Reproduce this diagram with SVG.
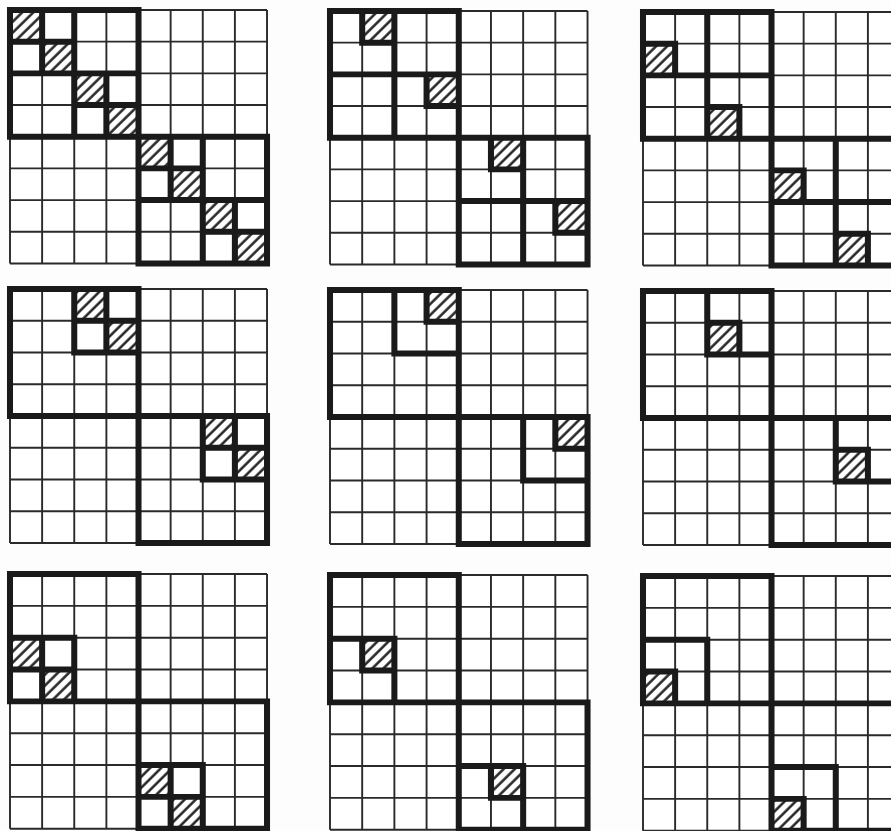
<svg xmlns="http://www.w3.org/2000/svg" xmlns:xlink="http://www.w3.org/1999/xlink" width="891" height="831" viewBox="0 0 891 831">
<style>
.thin{fill:none;stroke:#2a2a2a;stroke-width:1.9}
.thick{fill:none;stroke:#1a1a1a;stroke-width:6;stroke-linecap:square;stroke-linejoin:miter}
.h{fill:url(#hatch)}
</style>
<defs>
<pattern id="hatch" patternUnits="userSpaceOnUse" width="7.8" height="7.8" patternTransform="rotate(45)">
<rect width="7.8" height="7.8" fill="#fff"/>
<line x1="2.5" y1="0" x2="2.5" y2="7.8" stroke="#1a1a1a" stroke-width="2.4"/>
</pattern>
<g id="grid">
<rect width="256" height="256" fill="#fff"/>
<path class="thin" d="M0 0V256M32 0V256M64 0V256M96 0V256M128 0V256M160 0V256M192 0V256M224 0V256M256 0V256M0 0H256M0 32H256M0 64H256M0 96H256M0 128H256M0 160H256M0 192H256M0 224H256M0 256H256"/>
</g>
</defs>
<rect width="891" height="831" fill="#fdfdfd"/>

<g id="grid1" transform="translate(10,10) scale(1.004,0.99)">
<use href="#grid" xlink:href="#grid"/>
<rect class="h" x="2" y="2" width="28" height="28"/>
<rect class="h" x="34" y="34" width="28" height="28"/>
<rect class="h" x="66" y="66" width="28" height="28"/>
<rect class="h" x="98" y="98" width="28" height="28"/>
<rect class="h" x="130" y="130" width="28" height="28"/>
<rect class="h" x="162" y="162" width="28" height="28"/>
<rect class="h" x="194" y="194" width="28" height="28"/>
<rect class="h" x="226" y="226" width="28" height="28"/>
<path class="thick" d="M0 0H128V128H0ZM128 128H256V256H128ZM0 0H64V64H0ZM64 64H128V128H64ZM128 128H192V192H128ZM192 192H256V256H192ZM0 0h32v32h-32ZM32 32h32v32h-32ZM64 64h32v32h-32ZM96 96h32v32h-32ZM128 128h32v32h-32ZM160 160h32v32h-32ZM192 192h32v32h-32ZM224 224h32v32h-32Z"/>
</g>

<g id="grid2" transform="translate(330,11) scale(1.006,0.99)">
<use href="#grid" xlink:href="#grid"/>
<rect class="h" x="34" y="2" width="28" height="28"/>
<rect class="h" x="98" y="66" width="28" height="28"/>
<rect class="h" x="162" y="130" width="28" height="28"/>
<rect class="h" x="226" y="194" width="28" height="28"/>
<path class="thick" d="M0 0H128V128H0ZM128 128H256V256H128ZM0 0H64V64H0ZM64 64H128V128H64ZM128 128H192V192H128ZM192 192H256V256H192ZM32 0h32v32h-32ZM96 64h32v32h-32ZM160 128h32v32h-32ZM224 192h32v32h-32Z"/>
</g>

<g id="grid3" transform="translate(643,12) scale(1.004,0.99)">
<use href="#grid" xlink:href="#grid"/>
<rect class="h" x="2" y="34" width="28" height="28"/>
<rect class="h" x="66" y="98" width="28" height="28"/>
<rect class="h" x="130" y="162" width="28" height="28"/>
<rect class="h" x="194" y="226" width="28" height="28"/>
<path class="thick" d="M0 0H128V128H0ZM128 128H256V256H128ZM0 0H64V64H0ZM64 64H128V128H64ZM128 128H192V192H128ZM192 192H256V256H192ZM0 32h32v32h-32ZM64 96h32v32h-32ZM128 160h32v32h-32ZM192 224h32v32h-32Z"/>
</g>

<g id="grid4" transform="translate(10,289) scale(1.004,0.992)">
<use href="#grid" xlink:href="#grid"/>
<rect class="h" x="66" y="2" width="28" height="28"/>
<rect class="h" x="98" y="34" width="28" height="28"/>
<rect class="h" x="194" y="130" width="28" height="28"/>
<rect class="h" x="226" y="162" width="28" height="28"/>
<path class="thick" d="M0 0H128V128H0ZM128 128H256V256H128ZM64 0H128V64H64ZM192 128H256V192H192ZM64 0h32v32h-32ZM96 32h32v32h-32ZM192 128h32v32h-32ZM224 160h32v32h-32Z"/>
</g>

<g id="grid5" transform="translate(330,290) scale(1.006,0.992)">
<use href="#grid" xlink:href="#grid"/>
<rect class="h" x="98" y="2" width="28" height="28"/>
<rect class="h" x="226" y="130" width="28" height="28"/>
<path class="thick" d="M0 0H128V128H0ZM128 128H256V256H128ZM64 0H128V64H64ZM192 128H256V192H192ZM96 0h32v32h-32ZM224 128h32v32h-32Z"/>
</g>

<g id="grid6" transform="translate(643,291) scale(1.004,0.992)">
<use href="#grid" xlink:href="#grid"/>
<rect class="h" x="66" y="34" width="28" height="28"/>
<rect class="h" x="194" y="162" width="28" height="28"/>
<path class="thick" d="M0 0H128V128H0ZM128 128H256V256H128ZM64 0H128V64H64ZM192 128H256V192H192ZM64 32h32v32h-32ZM192 160h32v32h-32Z"/>
</g>

<g id="grid7" transform="translate(10,574) scale(1.004,0.995)">
<use href="#grid" xlink:href="#grid"/>
<rect class="h" x="2" y="66" width="28" height="28"/>
<rect class="h" x="34" y="98" width="28" height="28"/>
<rect class="h" x="130" y="194" width="28" height="28"/>
<rect class="h" x="162" y="226" width="28" height="28"/>
<path class="thick" d="M0 0H128V128H0ZM128 128H256V256H128ZM0 64H64V128H0ZM128 192H192V256H128ZM0 64h32v32h-32ZM32 96h32v32h-32ZM128 192h32v32h-32ZM160 224h32v32h-32Z"/>
</g>

<g id="grid8" transform="translate(330,575) scale(1.006,0.995)">
<use href="#grid" xlink:href="#grid"/>
<rect class="h" x="34" y="66" width="28" height="28"/>
<rect class="h" x="162" y="194" width="28" height="28"/>
<path class="thick" d="M0 0H128V128H0ZM128 128H256V256H128ZM0 64H64V128H0ZM128 192H192V256H128ZM32 64h32v32h-32ZM160 192h32v32h-32Z"/>
</g>

<g id="grid9" transform="translate(643,576) scale(1.004,0.995)">
<use href="#grid" xlink:href="#grid"/>
<rect class="h" x="2" y="98" width="28" height="28"/>
<rect class="h" x="130" y="226" width="28" height="28"/>
<path class="thick" d="M0 0H128V128H0ZM128 128H256V256H128ZM0 64H64V128H0ZM128 192H192V256H128ZM0 96h32v32h-32ZM128 224h32v32h-32Z"/>
</g>

<g id="connectors"/>
</svg>
